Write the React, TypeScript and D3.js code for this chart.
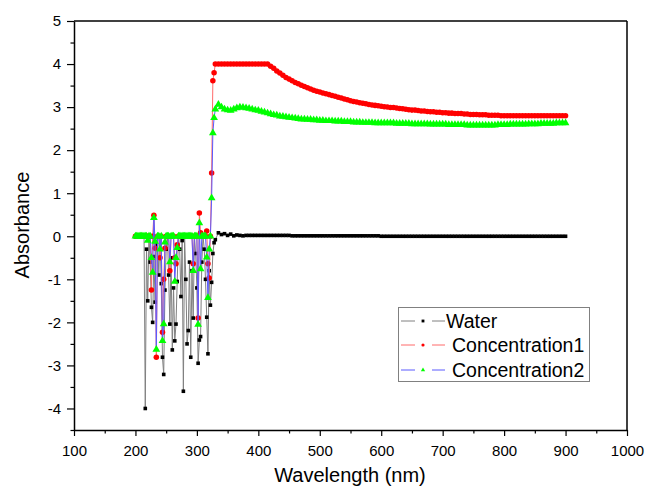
import React, { useEffect, useRef } from 'react';
import * as d3 from 'd3';

// wavelength grids (nm)
const spikeWavelengths = d3.range(200, 329, 2);
const smoothWavelengths = d3.range(330, 901, 5);

// noisy region 200-328 nm
const waterSpike = [
  0, 0, 0, 0, 0, 0, 0, 0, -4.0, -0.3,
  -1.5, 0, -0.6, -1.65, -2.0, -0.47, -1.53, -0.2, 0, -0.9,
  0, -1.1, -2.81, -3.21, -1.25, -0.3, 0, -0.9, -2.04, -0.5,
  -2.64, -1.2, -2.43, -2.04, -1.05, 0, -0.3, -1.4, -0.1, -3.6,
  0, -1.0, -2.5, -2.19, -0.6, -2.81, -0.8, -1.9, 0, -0.4,
  -1.2, -2.95, -2.41, -2.33, -0.6, 0, -0.3, -1.0, -1.88, -2.73,
  -0.8, -1.6, -1.07, -0.4, -0.15,
];
const conc1Spike = [
  0, 0, 0, 0, 0, 0, 0, 0, 0, 0,
  0, 0, 0, -1.25, 0, 0.49, -0.28, -2.81, 0, 0,
  -0.5, 0, -2.23, -1.0, -0.28, 0, 0, 0, -0.8, 0,
  0, 0, -0.5, -0.64, -0.2, 0, 0, 0, 0, 0,
  0, 0, 0, 0, 0, 0, 0, -0.64, 0, 0,
  0, -1.9, 0.54, 0.08, 0, 0, 0, 0, 0.12, -0.64,
  -0.97, 0, 1.47, 3.61, 3.8,
];
const conc2Spike = [
  0, 0, 0, 0, 0, 0, 0, 0, 0, 0,
  -0.1, 0, 0, -0.5, -0.84, 0.43, -0.12, -2.63, 0, 0,
  -0.3, 0, -2.43, -2.04, -0.14, 0, 0, 0, -0.6, 0,
  0, 0, -1.05, -0.5, -0.27, 0, 0, 0, 0, 0,
  0, 0, 0, 0, 0, 0, 0, -0.8, 0, 0,
  0, -2.05, 0.31, -0.76, 0, 0, 0, 0, -0.49, -1.43,
  -0.3, 0, 0.89, 2.4, 2.75,
];

// smooth region 330-900 nm
const waterSmooth = [
  -0.08, 0.08, 0.04, 0.06, 0.02, 0.05, 0.01, 0.03, 0.02, 0.01,
  0.02, 0.02, 0.02, 0.02, 0.02, 0.02, 0.02, 0.02, 0.02, 0.02,
  0.02, 0.02, 0.02, 0.02, 0.02, 0.01, 0.01, 0.01, 0.01, 0.01,
  0.01, 0.01, 0.01, 0.01, 0.01, 0.01, 0.01, 0.01, 0.01, 0.01,
  0.01, 0.01, 0.01, 0.01, 0.01, 0.01, 0.01, 0.01, 0.01, 0.01,
  0.01, 0.01, 0.01, 0.01, 0, 0, 0, 0, 0, 0,
  0, 0, 0, 0, 0, 0, 0, 0, 0, 0,
  0, 0, 0, 0, 0, 0, 0, 0, 0, 0,
  0, 0, 0, 0, 0, 0, 0, 0, 0, 0,
  0, 0, 0, 0, 0, 0, 0, 0, 0, 0,
  0, 0, 0, 0, 0, 0, 0, 0, 0, 0,
  0, 0, 0, 0, 0,
];
const conc1Smooth = [
  4.0, 4.0, 4.0, 4.0, 4.0, 4.0, 4.0, 4.0, 4.0, 4.0,
  4.0, 4.0, 4.0, 4.0, 4.0, 4.0, 4.0, 4.0,
  3.95, 3.90, 3.84, 3.79, 3.74, 3.69, 3.65, 3.61, 3.57, 3.54,
  3.51, 3.48, 3.45, 3.42, 3.39, 3.37, 3.35, 3.33, 3.31, 3.29,
  3.27, 3.25, 3.23, 3.21, 3.19, 3.17, 3.15, 3.13, 3.12, 3.10,
  3.09, 3.08, 3.06, 3.05, 3.04, 3.03, 3.02, 3.01, 3.00, 2.99,
  2.99, 2.98, 2.97, 2.96, 2.95, 2.94, 2.93, 2.93, 2.92, 2.91,
  2.91, 2.90, 2.89, 2.89, 2.88, 2.88, 2.87, 2.87, 2.86, 2.86,
  2.85, 2.85, 2.85, 2.84, 2.84, 2.83, 2.83, 2.83, 2.82, 2.82,
  2.82, 2.81, 2.81, 2.81, 2.81, 2.80, 2.80, 2.80, 2.80, 2.80,
  2.80, 2.80, 2.80, 2.80, 2.80, 2.80, 2.80, 2.80, 2.80, 2.80,
  2.80, 2.80, 2.80, 2.80, 2.80, 2.80, 2.80,
];
const conc2Smooth = [
  2.95, 3.06, 3.00, 2.95, 2.93, 2.92, 2.95, 2.98, 3.00, 2.99,
  2.98, 2.97, 2.95, 2.93, 2.92, 2.90, 2.88, 2.86, 2.84, 2.82,
  2.81, 2.79, 2.78, 2.77, 2.76, 2.75, 2.74, 2.73, 2.72, 2.72,
  2.71, 2.71, 2.70, 2.70, 2.69, 2.69, 2.68, 2.68, 2.68, 2.67,
  2.67, 2.67, 2.66, 2.66, 2.66, 2.65, 2.65, 2.65, 2.64, 2.64,
  2.64, 2.64, 2.63, 2.63, 2.63, 2.63, 2.63, 2.63, 2.63, 2.62,
  2.62, 2.62, 2.62, 2.62, 2.61, 2.61, 2.61, 2.61, 2.61, 2.61,
  2.60, 2.60, 2.60, 2.60, 2.60, 2.60, 2.59, 2.59, 2.59, 2.59,
  2.59, 2.59, 2.58, 2.58, 2.58, 2.58, 2.58, 2.58, 2.58, 2.58,
  2.58, 2.58, 2.59, 2.59, 2.59, 2.59, 2.60, 2.60, 2.60, 2.60,
  2.60, 2.60, 2.61, 2.61, 2.61, 2.61, 2.62, 2.62, 2.62, 2.62,
  2.62, 2.63, 2.63, 2.63, 2.63,
];

const seriesNames = ['Water', 'Concentration1', 'Concentration2'];
const xTicks = [100, 200, 300, 400, 500, 600, 700, 800, 900, 1000];
const yTicks = [-4, -3, -2, -1, 0, 1, 2, 3, 4, 5];

const FONT = '"Liberation Sans", Arial, sans-serif';

const Chart = () => {
  const svgRef = useRef(null);

  useEffect(() => {
    const svg = d3.select(svgRef.current);
    svg.selectAll('*').remove();

    const x = d3.scaleLinear().domain([100, 1000]).range([74, 627]);
    const y = d3.scaleLinear().domain([-4.5, 5]).range([430, 21]);

    const toPoints = (vals, wl) => vals.map((v, i) => [wl[i], v]);
    const series = [
      { name: seriesNames[0], pts: toPoints(waterSpike, spikeWavelengths).concat(toPoints(waterSmooth, smoothWavelengths)), line: '#808080', marker: '#000000', shape: 'square' },
      { name: seriesNames[1], pts: toPoints(conc1Spike, spikeWavelengths).concat(toPoints(conc1Smooth, smoothWavelengths)), line: '#ff6b6b', marker: '#ff0000', shape: 'circle' },
      { name: seriesNames[2], pts: toPoints(conc2Spike, spikeWavelengths).concat(toPoints(conc2Smooth, smoothWavelengths)), line: '#5a5aff', marker: '#00ff00', shape: 'triangle' },
    ];

    const symbolType = (shape) =>
      shape === 'square' ? d3.symbolSquare : shape === 'circle' ? d3.symbolCircle : d3.symbolTriangle;
    const symbolFor = (shape) => {
      if (shape === 'square') return d3.symbol(d3.symbolSquare, 13)();
      if (shape === 'circle') return d3.symbol(d3.symbolCircle, 24)();
      return d3.symbol(d3.symbolTriangle, 26)();
    };

    const line = d3.line().x(d => x(d[0])).y(d => y(d[1]));

    // series
    series.forEach(s => {
      const g = svg.append('g');
      g.append('path')
        .attr('d', line(s.pts))
        .attr('fill', 'none')
        .attr('stroke', s.line)
        .attr('stroke-width', 1);
      g.selectAll('path.m')
        .data(s.pts)
        .join('path')
        .attr('class', 'm')
        .attr('d', symbolFor(s.shape))
        .attr('transform', d => `translate(${x(d[0])},${y(d[1])})`)
        .attr('fill', s.marker);
    });

    // frame
    svg.append('line').attr('x1', 74).attr('x2', 627).attr('y1', 21).attr('y2', 21)
      .attr('stroke', '#000').attr('stroke-width', 1.5);
    svg.append('line').attr('x1', 627).attr('x2', 627).attr('y1', 21).attr('y2', 430)
      .attr('stroke', '#000').attr('stroke-width', 1.5);

    const fmt = d => String(d).replace('\u2212', '-');

    // x axis
    const xAxis = svg.append('g').attr('transform', 'translate(0,430)')
      .call(d3.axisBottom(x).tickValues(xTicks).tickFormat(fmt).tickSize(6).tickSizeOuter(0).tickPadding(9));
    svg.append('g').attr('transform', 'translate(0,430)')
      .call(d3.axisBottom(x).tickValues(d3.range(150, 1000, 100)).tickSize(3.5).tickFormat(() => ''))
      .call(g => g.select('.domain').remove());

    // y axis
    const yAxis = svg.append('g').attr('transform', 'translate(74,0)')
      .call(d3.axisLeft(y).tickValues(yTicks).tickFormat(fmt).tickSize(7).tickSizeOuter(0).tickPadding(6));
    svg.append('g').attr('transform', 'translate(74,0)')
      .call(d3.axisLeft(y).tickValues(d3.range(-4.5, 5, 1)).tickSize(3.5).tickFormat(() => ''))
      .call(g => g.select('.domain').remove());

    svg.selectAll('.domain').attr('stroke-width', 1.5);
    svg.selectAll('.tick line').attr('stroke-width', 1.2);
    [xAxis, yAxis].forEach(a => a.selectAll('text')
      .attr('font-family', FONT).attr('font-size', 15).attr('fill', '#000'));

    // titles
    svg.append('text').attr('x', 350).attr('y', 482).attr('text-anchor', 'middle')
      .attr('font-family', FONT).attr('font-size', 20).text('Wavelength (nm)');
    svg.append('text').attr('transform', 'translate(29,225) rotate(-90)').attr('text-anchor', 'middle')
      .attr('font-family', FONT).attr('font-size', 20).text('Absorbance');

    // legend
    const lg = svg.append('g');
    lg.append('rect').attr('x', 398.5).attr('y', 307.5).attr('width', 191).attr('height', 74)
      .attr('fill', '#fff').attr('stroke', '#808080').attr('stroke-width', 1);
    const rowY = [321, 345, 370];
    const textX = [446, 452, 452];
    series.forEach((s, i) => {
      const ry = rowY[i];
      lg.append('line').attr('x1', 401).attr('x2', 415).attr('y1', ry).attr('y2', ry)
        .attr('stroke', s.line).attr('stroke-width', 1);
      lg.append('line').attr('x1', 432).attr('x2', 445).attr('y1', ry).attr('y2', ry)
        .attr('stroke', s.line).attr('stroke-width', 1);
      lg.append('path').attr('d', d3.symbol(symbolType(s.shape), 8)())
        .attr('transform', `translate(423,${ry})`)
        .attr('fill', s.marker);
      lg.append('text').attr('x', textX[i]).attr('y', ry + 7)
        .attr('font-family', FONT).attr('font-size', 19.5).text(s.name);
    });
  }, []);

  return (
    <svg ref={svgRef} width={645} height={493}
      style={{ position: 'absolute', left: 0, top: 0, background: '#fff' }}></svg>
  );
};

const App = () => <Chart />;

export default App;
